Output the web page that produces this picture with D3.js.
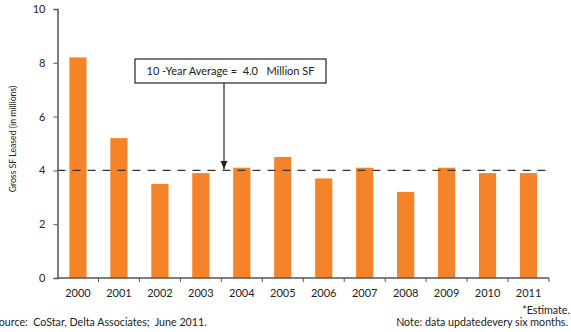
<!DOCTYPE html>
<html><head><meta charset="utf-8">
<script src="https://cdn.jsdelivr.net/npm/d3@7/dist/d3.min.js"></script>
<style>body{margin:0;background:#fff;}svg{display:block;font-family:Lato,"Open Sans",sans-serif;}</style>
</head><body>
<svg id="c" width="571" height="332"></svg>
<script>
const years = ["2000","2001","2002","2003","2004","2005","2006","2007","2008","2009","2010","2011"];
const leased = [8.2,5.2,3.5,3.9,4.1,4.5,3.7,4.1,3.2,4.1,3.9,3.9];
const yTicks = [0,2,4,6,8,10];
const average = 4.0;
const avgLabel = "10 -Year Average =  4.0   Million SF";
const yTitle = "Gross SF Leased (in millions)";
const sourceNote = "Source:  CoStar, Delta Associates;  June 2011.";
const estNote = "*Estimate.";
const updNote = "Note: data updatedevery six months.";

(function(){
const svg = d3.select("#c");
const mLeft = 57.5, mRight = 549, mTop = 9, mBottom = 278;
const x = d3.scaleBand().domain(years).range([mLeft, mRight]).paddingInner(0.58).paddingOuter(0.29);
const xb = d3.scaleBand().domain(years).range([mLeft, mRight]);
const y = d3.scaleLinear().domain([0,10]).range([mBottom, mTop]);
const axisColor = "#555";

svg.selectAll("rect.bar").data(years).enter().append("rect")
  .attr("class","bar")
  .attr("x", d => x(d)).attr("width", x.bandwidth())
  .attr("y", (d,i) => y(leased[i])).attr("height", (d,i) => y(0) - y(leased[i]))
  .attr("fill", "#F5832A");

svg.append("line").attr("x1", mLeft).attr("x2", mRight)
  .attr("y1", y(average)).attr("y2", y(average))
  .attr("stroke", "#333").attr("stroke-width", 1.2).attr("stroke-dasharray", "8,7");

const ya = svg.append("g").attr("transform", `translate(${mLeft},0)`)
  .call(d3.axisLeft(y).tickValues(yTicks).tickSize(4).tickPadding(8));
ya.select(".domain").attr("stroke", axisColor).attr("stroke-width", 1.5);
ya.selectAll(".tick line").attr("stroke", axisColor);
ya.selectAll("text").attr("font-size", 11).attr("fill", "#222").attr("font-family","Lato,sans-serif");

const xa = svg.append("g").attr("transform", `translate(0,${mBottom})`);
xa.append("line").attr("x1", mLeft).attr("x2", mRight).attr("stroke", axisColor).attr("stroke-width", 1.5);
xa.selectAll("line.tk").data(years.slice(1).concat(["end"])).enter().append("line")
  .attr("class","tk")
  .attr("x1", d => d === "end" ? mRight : xb(d)).attr("x2", d => d === "end" ? mRight : xb(d))
  .attr("y1", 0).attr("y2", 4).attr("stroke", axisColor);
xa.selectAll("text").data(years).enter().append("text")
  .attr("x", d => xb(d) + xb.bandwidth()/2).attr("y", 19)
  .attr("text-anchor","middle").attr("font-size", 11).attr("fill", "#222").text(d => d);

svg.append("text").attr("transform", `translate(16,139) rotate(-90)`)
  .attr("text-anchor","middle").attr("font-size", 8.7).attr("fill","#222").text(yTitle);

const bx = 135, by = 59, bw = 191, bh = 24;
svg.append("rect").attr("x", bx).attr("y", by).attr("width", bw).attr("height", bh)
  .attr("fill","#fff").attr("stroke","#222").attr("stroke-width",1.2);
svg.append("text").attr("x", bx + bw/2).attr("y", by + 16).attr("text-anchor","middle")
  .attr("font-size", 11).attr("fill","#222").style("white-space","pre").text(avgLabel);

const ax = 224;
svg.append("defs").append("marker").attr("id","ah").attr("viewBox","0 0 10 10")
  .attr("refX",10).attr("refY",5).attr("markerWidth",7).attr("markerHeight",7).attr("orient","auto")
  .append("path").attr("d","M0,1 L10,5 L0,9 Z").attr("fill","#222");
svg.append("line").attr("x1", ax).attr("x2", ax).attr("y1", by + bh).attr("y2", y(average) - 1)
  .attr("stroke","#222").attr("stroke-width",1.2).attr("marker-end","url(#ah)");

svg.append("text").attr("x", -7).attr("y", 326).attr("font-size", 10.7).attr("fill","#222").style("white-space","pre").text(sourceNote);
svg.append("text").attr("x", 570).attr("y", 314).attr("text-anchor","end").attr("font-size", 10.7).attr("fill","#222").text(estNote);
svg.append("text").attr("x", 568).attr("y", 326).attr("text-anchor","end").attr("font-size", 10.7).attr("fill","#222").text(updNote);
})();
</script>
</body></html>
